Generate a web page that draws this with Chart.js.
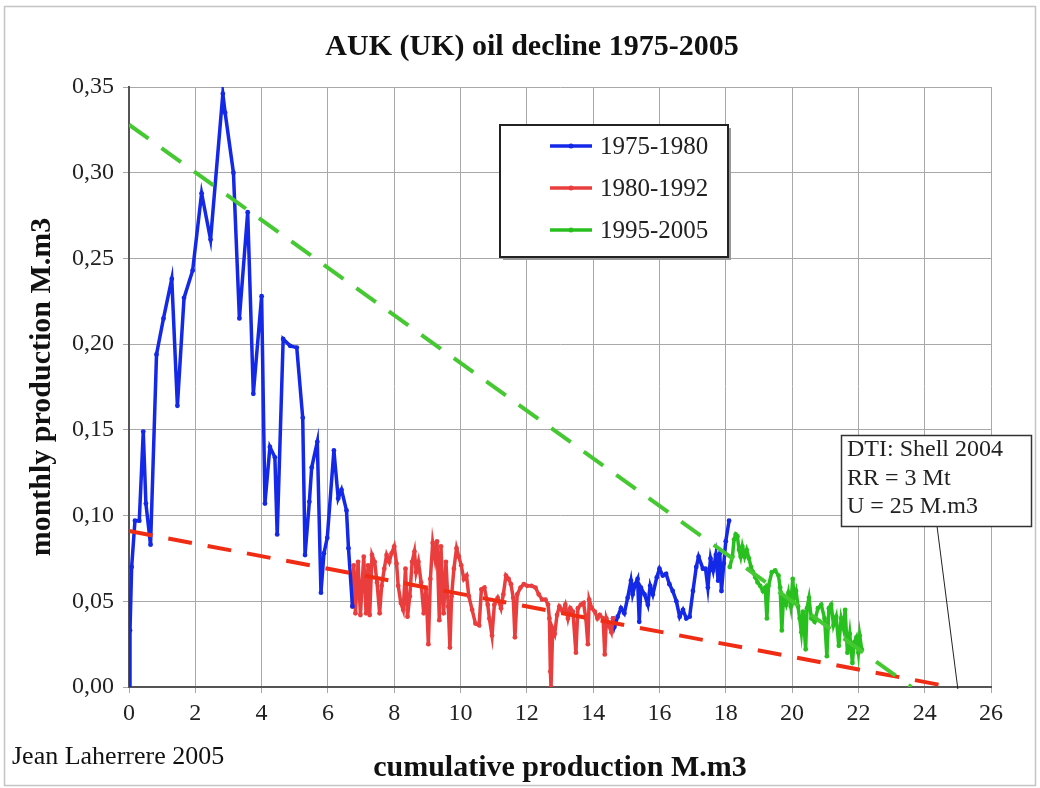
<!DOCTYPE html>
<html>
<head>
<meta charset="utf-8">
<script src="https://cdn.jsdelivr.net/npm/chart.js@4.4.1/dist/chart.umd.min.js"></script>
<style>
    html, body { margin: 0; padding: 0; background: #fff; }
    #wrap { width: 1040px; height: 788px; }
</style>
</head>
<body>
<div id="wrap"><canvas id="chart" width="1040" height="788"></canvas></div>
<script>
// values: x = cumulative production (M.m3), y = monthly production (M.m3)
const blueEarlyX = [0, 0.03, 0.08, 0.18, 0.31, 0.43, 0.51, 0.65, 0.83, 1.04, 1.29, 1.46, 1.66, 1.92, 2.19, 2.46, 2.83, 2.90, 3.15, 3.33, 3.58, 3.75, 4.00, 4.10, 4.25, 4.40, 4.47, 4.65, 4.86, 5.06, 5.24, 5.31, 5.44, 5.51, 5.68, 5.79, 5.88, 5.98, 6.18, 6.31, 6.41, 6.56, 6.62, 6.74];
const blueEarlyY = [0, 0.033, 0.070, 0.097, 0.097, 0.149, 0.107, 0.083, 0.194, 0.215, 0.238, 0.164, 0.227, 0.243, 0.288, 0.261, 0.346, 0.335, 0.300, 0.215, 0.277, 0.171, 0.228, 0.107, 0.140, 0.134, 0.089, 0.203, 0.199, 0.198, 0.157, 0.077, 0.108, 0.128, 0.143, 0.055, 0.078, 0.087, 0.138, 0.110, 0.115, 0.103, 0.081, 0.047];

const redX = [6.74, 6.78, 6.83, 6.91, 6.98, 7.08, 7.15, 7.21, 7.26, 7.33, 7.41, 7.48, 7.56, 7.62, 7.70, 7.77, 7.85, 7.92, 8.00, 8.07, 8.12, 8.20, 8.27, 8.34, 8.40, 8.47, 8.54, 8.61, 8.66, 8.73, 8.81, 8.89, 8.96, 9.03, 9.09, 9.16, 9.23, 9.29, 9.36, 9.41, 9.49, 9.56, 9.63, 9.68, 9.73, 9.80, 9.88, 9.95, 10.02, 10.10, 10.18, 10.25, 10.35, 10.45, 10.56, 10.63, 10.72, 10.82, 10.87, 10.95, 11.02, 11.12, 11.22, 11.29, 11.37, 11.45, 11.52, 11.59, 11.64, 11.71, 11.81, 11.91, 12.01, 12.14, 12.26, 12.36, 12.46, 12.56, 12.64, 12.68, 12.71, 12.73, 12.78, 12.84, 12.91, 12.98, 13.08, 13.16, 13.24, 13.31, 13.39, 13.48, 13.54, 13.63, 13.71, 13.78, 13.84, 13.88, 13.96, 14.05, 14.13, 14.20, 14.30, 14.35, 14.40, 14.47, 14.55, 14.60];
const redY = [0.047, 0.071, 0.043, 0.073, 0.042, 0.076, 0.043, 0.071, 0.042, 0.077, 0.073, 0.061, 0.043, 0.059, 0.069, 0.077, 0.073, 0.078, 0.082, 0.072, 0.059, 0.049, 0.045, 0.069, 0.041, 0.053, 0.073, 0.079, 0.067, 0.073, 0.061, 0.043, 0.057, 0.025, 0.063, 0.084, 0.075, 0.085, 0.039, 0.082, 0.043, 0.073, 0.047, 0.023, 0.053, 0.069, 0.081, 0.076, 0.071, 0.063, 0.065, 0.053, 0.045, 0.037, 0.036, 0.057, 0.058, 0.048, 0.040, 0.030, 0.048, 0.052, 0.046, 0.054, 0.065, 0.063, 0.060, 0.052, 0.029, 0.054, 0.058, 0.060, 0.059, 0.059, 0.058, 0.054, 0.051, 0.051, 0.048, 0.040, 0.009, 0.000, 0.034, 0.031, 0.042, 0.047, 0.044, 0.048, 0.040, 0.046, 0.044, 0.020, 0.046, 0.048, 0.049, 0.040, 0.025, 0.051, 0.046, 0.044, 0.040, 0.042, 0.040, 0.019, 0.040, 0.036, 0.032, 0.040];

const blueLateX = [14.60, 14.64, 14.74, 14.84, 14.94, 15.04, 15.14, 15.19, 15.27, 15.34, 15.39, 15.44, 15.55, 15.65, 15.72, 15.80, 15.92, 16.00, 16.10, 16.20, 16.30, 16.40, 16.51, 16.61, 16.71, 16.81, 16.91, 17.01, 17.11, 17.18, 17.31, 17.39, 17.46, 17.54, 17.62, 17.70, 17.77, 17.82, 17.87, 17.94, 18.00, 18.10];
const blueLateY = [0.040, 0.035, 0.041, 0.046, 0.043, 0.052, 0.062, 0.054, 0.060, 0.063, 0.038, 0.058, 0.054, 0.048, 0.059, 0.054, 0.064, 0.069, 0.065, 0.066, 0.060, 0.056, 0.050, 0.041, 0.045, 0.040, 0.041, 0.056, 0.070, 0.076, 0.069, 0.069, 0.058, 0.075, 0.068, 0.077, 0.062, 0.078, 0.056, 0.072, 0.085, 0.097];

const greenX = [18.12, 18.20, 18.25, 18.30, 18.35, 18.40, 18.45, 18.50, 18.57, 18.63, 18.70, 18.76, 18.82, 18.89, 18.96, 19.04, 19.12, 19.19, 19.24, 19.29, 19.39, 19.49, 19.59, 19.64, 19.69, 19.74, 19.82, 19.89, 19.96, 20.02, 20.06, 20.12, 20.18, 20.23, 20.28, 20.33, 20.41, 20.45, 20.51, 20.58, 20.68, 20.78, 20.88, 20.98, 21.05, 21.11, 21.18, 21.25, 21.33, 21.41, 21.48, 21.55, 21.60, 21.67, 21.74, 21.82, 21.87, 21.94, 22.00, 22.04, 22.10];
const greenY = [0.070, 0.076, 0.086, 0.089, 0.088, 0.080, 0.076, 0.082, 0.076, 0.080, 0.075, 0.070, 0.067, 0.064, 0.061, 0.059, 0.056, 0.058, 0.040, 0.059, 0.067, 0.068, 0.065, 0.058, 0.033, 0.052, 0.048, 0.055, 0.047, 0.063, 0.052, 0.056, 0.047, 0.040, 0.032, 0.044, 0.022, 0.046, 0.052, 0.040, 0.038, 0.046, 0.048, 0.040, 0.018, 0.046, 0.048, 0.036, 0.041, 0.024, 0.040, 0.034, 0.045, 0.020, 0.031, 0.014, 0.026, 0.029, 0.020, 0.030, 0.022];

// dashed decline lines
const greenTrendX = [0, 23.6];
const greenTrendY = [0.328, 0];
const redTrendX = [0, 24.8];
const redTrendY = [0.091, 0];

const seriesNames = ['1975-1980', '1980-1992', '1995-2005'];
const noteLines = ['DTI: Shell 2004', 'RR = 3 Mt', 'U = 25 M.m3'];
const ultimateU = 25;

const xMin = 0, xMax = 26, xStep = 2;
const yMin = 0, yMax = 0.35, yStep = 0.05;

const BLUE = 'rgb(20,40,232)';
const RED = 'rgb(234,62,62)';
const GREEN = 'rgb(40,192,30)';
const SERIF = '"Liberation Serif", "Times New Roman", serif';

function pts(xs, ys) {
    return xs.map((x, i) => ({ x: x, y: ys[i] }));
}

function lineSet(label, xs, ys, color) {
    return {
        label: label,
        data: pts(xs, ys),
        borderColor: color,
        backgroundColor: color,
        borderWidth: 3.5,
        pointRadius: 2.4,
        pointHoverRadius: 2.4,
        pointBorderWidth: 0,
        tension: 0
    };
}

function trendSet(xs, ys, color) {
    return {
        label: '',
        data: pts(xs, ys),
        borderColor: color,
        borderWidth: 4,
        borderDash: [24, 16],
        pointRadius: 0,
        tension: 0
    };
}

// titles, legend box, note box - drawn over the chart
const decor = {
    id: 'decor',
    beforeDraw(chart) {
        const ctx = chart.ctx;
        ctx.save();
        ctx.fillStyle = '#fff';
        ctx.fillRect(0, 0, chart.width, chart.height);
        ctx.restore();
    },
    afterDraw(chart) {
        const ctx = chart.ctx;
        const xs = chart.scales.x, ys = chart.scales.y;
        ctx.save();

        ctx.strokeStyle = '#c4c4c4';
        ctx.lineWidth = 1.5;
        ctx.strokeRect(4.5, 6.5, 1031, 779);

        ctx.fillStyle = '#111';
        ctx.textBaseline = 'middle';
        ctx.textAlign = 'center';
        ctx.font = 'bold 30px ' + SERIF;
        ctx.fillText('AUK (UK) oil decline 1975-2005', 532, 47);

        ctx.textAlign = 'left';
        ctx.font = '26px ' + SERIF;
        ctx.fillText('Jean Laherrere 2005', 12, 757);

        // legend
        ctx.fillStyle = '#999';
        ctx.fillRect(503, 128, 228, 132);
        ctx.fillStyle = '#fff';
        ctx.fillRect(500, 125, 228, 132);
        ctx.strokeStyle = '#222';
        ctx.lineWidth = 2;
        ctx.strokeRect(500, 125, 228, 132);
        const colors = [BLUE, RED, GREEN];
        seriesNames.forEach((name, i) => {
            const yy = 146 + i * 42;
            ctx.strokeStyle = colors[i];
            ctx.lineWidth = 3.5;
            ctx.beginPath();
            ctx.moveTo(550, yy);
            ctx.lineTo(592, yy);
            ctx.stroke();
            ctx.fillStyle = colors[i];
            ctx.beginPath();
            ctx.arc(571, yy, 2.5, 0, Math.PI * 2);
            ctx.fill();
            ctx.fillStyle = '#222';
            ctx.font = '25px ' + SERIF;
            ctx.fillText(name, 600, yy + 1);
        });

        // note box with leader to U on the x axis
        ctx.strokeStyle = '#222';
        ctx.lineWidth = 1;
        ctx.beginPath();
        ctx.moveTo(937, 526);
        ctx.lineTo(xs.getPixelForValue(ultimateU), ys.getPixelForValue(0) + 2);
        ctx.stroke();
        ctx.fillStyle = '#fff';
        ctx.fillRect(841, 435, 190, 91);
        ctx.lineWidth = 1.5;
        ctx.strokeStyle = '#333';
        ctx.strokeRect(841.5, 435.5, 190, 91);
        ctx.fillStyle = '#222';
        ctx.font = '24px ' + SERIF;
        noteLines.forEach((t, i) => ctx.fillText(t, 847, 450 + i * 28.5));

        ctx.restore();
    }
};

const yTickLabel = v => v.toFixed(2).replace('.', ',');

new Chart(document.getElementById('chart'), {
    type: 'line',
    data: {
        datasets: [
            trendSet(greenTrendX, greenTrendY, 'rgb(70,200,50)'),
            trendSet(redTrendX, redTrendY, 'rgb(240,45,20)'),
            lineSet(seriesNames[0], blueEarlyX, blueEarlyY, BLUE),
            lineSet(seriesNames[1], redX, redY, RED),
            lineSet('1992-1995', blueLateX, blueLateY, BLUE),
            lineSet(seriesNames[2], greenX, greenY, GREEN)
        ]
    },
    options: {
        responsive: false,
        animation: false,
        layout: { padding: { left: 0, top: 87, right: 49, bottom: 0 } },
        plugins: {
            legend: { display: false },
            title: { display: false },
            tooltip: { enabled: false }
        },
        scales: {
            x: {
                type: 'linear',
                min: xMin,
                max: xMax,
                afterFit: s => { s.height = 101; },
                ticks: {
                    stepSize: xStep,
                    color: '#222',
                    padding: 6,
                    maxRotation: 0,
                    font: { family: SERIF, size: 24 }
                },
                grid: { color: '#a8a8a8', lineWidth: 1, tickLength: 6 },
                border: { color: '#555', width: 2 },
                title: {
                    display: true,
                    text: 'cumulative production M.m3',
                    color: '#111',
                    padding: { top: 0, bottom: 2 },
                    font: { family: SERIF, size: 30, weight: 'bold' }
                }
            },
            y: {
                min: yMin,
                max: yMax,
                afterFit: s => { s.width = 129; },
                ticks: {
                    stepSize: yStep,
                    color: '#222',
                    padding: 9,
                    callback: yTickLabel,
                    font: { family: SERIF, size: 24 }
                },
                grid: { color: '#a8a8a8', lineWidth: 1, tickLength: 6 },
                border: { color: '#555', width: 2 },
                title: {
                    display: true,
                    text: 'monthly production M.m3',
                    color: '#111',
                    padding: { top: 24, bottom: 0 },
                    font: { family: SERIF, size: 30, weight: 'bold' }
                }
            }
        }
    },
    plugins: [decor]
});
</script>
</body>
</html>
